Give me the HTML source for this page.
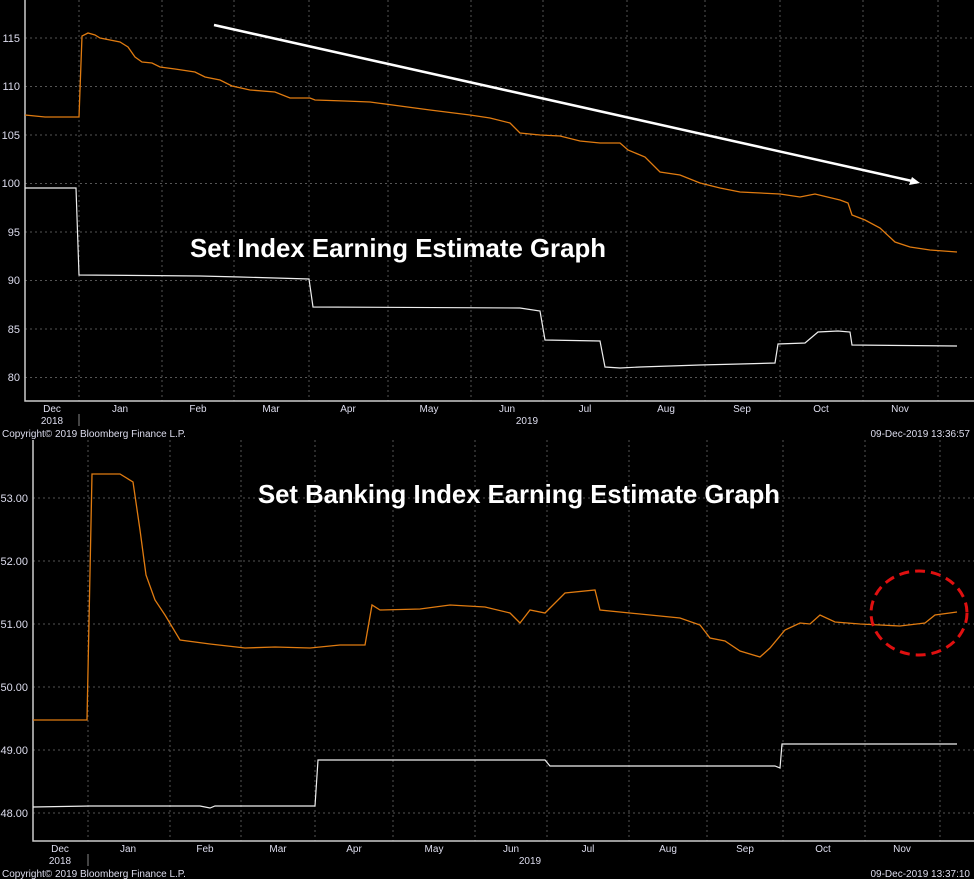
<!DOCTYPE html>
<html><head><meta charset="utf-8"><style>
html,body{margin:0;padding:0;background:#000;}
svg{display:block}
text{font-family:"Liberation Sans",sans-serif;}
</style></head><body>
<svg width="974" height="879" viewBox="0 0 974 879" xmlns="http://www.w3.org/2000/svg">
<rect width="974" height="879" fill="#000"/>
<g stroke="#555" stroke-width="1" stroke-dasharray="2,3">
<line x1="79" y1="0" x2="79" y2="401"/><line x1="162" y1="0" x2="162" y2="401"/><line x1="234" y1="0" x2="234" y2="401"/><line x1="309" y1="0" x2="309" y2="401"/><line x1="388" y1="0" x2="388" y2="401"/><line x1="471" y1="0" x2="471" y2="401"/><line x1="543" y1="0" x2="543" y2="401"/><line x1="627" y1="0" x2="627" y2="401"/><line x1="705" y1="0" x2="705" y2="401"/><line x1="780" y1="0" x2="780" y2="401"/><line x1="863" y1="0" x2="863" y2="401"/><line x1="938" y1="0" x2="938" y2="401"/>
<line x1="25" y1="38" x2="974" y2="38"/><line x1="25" y1="86.5" x2="974" y2="86.5"/><line x1="25" y1="135" x2="974" y2="135"/><line x1="25" y1="183.5" x2="974" y2="183.5"/><line x1="25" y1="232" x2="974" y2="232"/><line x1="25" y1="280.5" x2="974" y2="280.5"/><line x1="25" y1="329" x2="974" y2="329"/><line x1="25" y1="377.5" x2="974" y2="377.5"/>
</g>
<g stroke="#ccc" stroke-width="1.5" fill="none"><polyline points="25,0 25,401 974,401"/></g>
<g fill="#dde" font-size="11" text-anchor="end">
<text x="20" y="42">115</text><text x="20" y="90">110</text><text x="20" y="139">105</text><text x="20" y="187">100</text><text x="20" y="236">95</text><text x="20" y="284">90</text><text x="20" y="333">85</text><text x="20" y="381">80</text>
</g>
<g fill="#dde" font-size="10" text-anchor="middle">
<text x="52" y="412">Dec</text><text x="52" y="424">2018</text><text x="120" y="412">Jan</text><text x="198" y="412">Feb</text><text x="271" y="412">Mar</text><text x="348" y="412">Apr</text><text x="429" y="412">May</text><text x="507" y="412">Jun</text><text x="527" y="424">2019</text><text x="585" y="412">Jul</text><text x="666" y="412">Aug</text><text x="742" y="412">Sep</text><text x="821" y="412">Oct</text><text x="900" y="412">Nov</text>
</g>
<line x1="79" y1="414" x2="79" y2="426" stroke="#888"/>
<text x="2" y="437" fill="#dde" font-size="10">Copyright© 2019 Bloomberg Finance L.P.</text>
<text x="970" y="437" fill="#dde" font-size="10" text-anchor="end">09-Dec-2019 13:36:57</text>
<polyline fill="none" stroke="#e07b10" stroke-width="1.3" points="25,115 45,117 79,117 82,36 88,33 95,35 100,38 120,42 128,47 135,57 142,62 152,63 160,67 175,69 195,72 205,77 220,80 232,86 250,90 275,92 290,98 310,98 315,100 345,101 370,102 400,106 430,110 470,115 490,118 510,123 520,133 540,135 560,136 580,141 600,143 620,143 628,150 645,157 660,172 680,175 700,183 720,188 740,192 780,194 800,197 815,194 840,200 848,203 852,215 865,220 880,228 895,242 910,247 930,250 957,252"/>
<polyline fill="none" stroke="#eee" stroke-width="1.2" points="25,188 76,188 79,275 200,276 240,277 309,279 313,307 520,308 540,311 545,340 600,341 605,367 620,368 640,367 700,365 740,364 775,363 778,344 805,343 818,332 838,331 850,332 852,345 957,346"/>
<line x1="214" y1="25" x2="912" y2="181" stroke="#fff" stroke-width="2.5"/>
<polygon points="920,183 909,185 912,177" fill="#fff"/>
<text x="190" y="257" fill="#fff" font-size="26" font-weight="bold" textLength="416" lengthAdjust="spacingAndGlyphs">Set Index Earning Estimate Graph</text>
<g stroke="#555" stroke-width="1" stroke-dasharray="2,3">
<line x1="88" y1="440" x2="88" y2="841"/><line x1="170" y1="440" x2="170" y2="841"/><line x1="241" y1="440" x2="241" y2="841"/><line x1="315" y1="440" x2="315" y2="841"/><line x1="393" y1="440" x2="393" y2="841"/><line x1="475" y1="440" x2="475" y2="841"/><line x1="547" y1="440" x2="547" y2="841"/><line x1="629" y1="440" x2="629" y2="841"/><line x1="707" y1="440" x2="707" y2="841"/><line x1="783" y1="440" x2="783" y2="841"/><line x1="865" y1="440" x2="865" y2="841"/><line x1="940" y1="440" x2="940" y2="841"/>
<line x1="33" y1="498" x2="974" y2="498"/><line x1="33" y1="561" x2="974" y2="561"/><line x1="33" y1="624" x2="974" y2="624"/><line x1="33" y1="687" x2="974" y2="687"/><line x1="33" y1="750" x2="974" y2="750"/><line x1="33" y1="813" x2="974" y2="813"/>
</g>
<g stroke="#ccc" stroke-width="1.5" fill="none"><polyline points="33,440 33,841 974,841"/></g>
<g fill="#dde" font-size="11" text-anchor="end">
<text x="28" y="502">53.00</text><text x="28" y="565">52.00</text><text x="28" y="628">51.00</text><text x="28" y="691">50.00</text><text x="28" y="754">49.00</text><text x="28" y="817">48.00</text>
</g>
<g fill="#dde" font-size="10" text-anchor="middle">
<text x="60" y="852">Dec</text><text x="60" y="864">2018</text><text x="128" y="852">Jan</text><text x="205" y="852">Feb</text><text x="278" y="852">Mar</text><text x="354" y="852">Apr</text><text x="434" y="852">May</text><text x="511" y="852">Jun</text><text x="530" y="864">2019</text><text x="588" y="852">Jul</text><text x="668" y="852">Aug</text><text x="745" y="852">Sep</text><text x="823" y="852">Oct</text><text x="902" y="852">Nov</text>
</g>
<line x1="88" y1="854" x2="88" y2="866" stroke="#888"/>
<text x="2" y="877" fill="#dde" font-size="10">Copyright© 2019 Bloomberg Finance L.P.</text>
<text x="970" y="877" fill="#dde" font-size="10" text-anchor="end">09-Dec-2019 13:37:10</text>
<polyline fill="none" stroke="#e07b10" stroke-width="1.3" points="33,720 87,720 92,474 120,474 133,482 140,530 146,575 155,600 165,615 180,640 210,644 245,648 275,647 310,648 340,645 365,645 372,605 380,610 420,609 450,605 485,607 510,613 520,623 530,610 545,613 565,593 595,590 600,610 640,614 680,618 700,625 710,638 725,641 740,651 760,657 770,648 785,630 800,623 810,624 820,615 835,622 860,624 900,626 925,623 935,615 957,612"/>
<polyline fill="none" stroke="#eee" stroke-width="1.2" points="33,807 90,806 200,806 210,808 215,806 315,806 318,760 545,760 550,766 775,766 780,768 782,744 957,744"/>
<text x="258" y="503" fill="#fff" font-size="26" font-weight="bold" textLength="522" lengthAdjust="spacingAndGlyphs">Set Banking Index Earning Estimate Graph</text>
<ellipse cx="919" cy="613" rx="48" ry="42" fill="none" stroke="#e01010" stroke-width="3" stroke-dasharray="10,6"/>
</svg>
</body></html>
